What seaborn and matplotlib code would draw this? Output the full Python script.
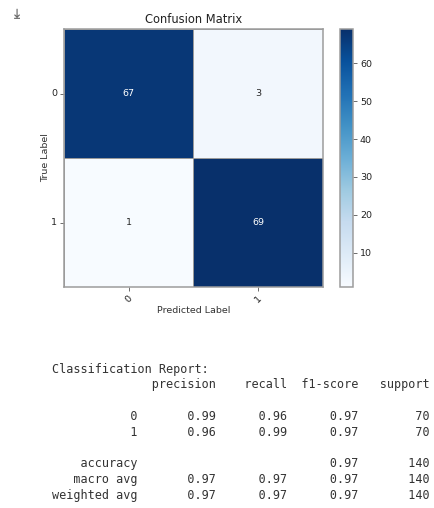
import numpy as np
import matplotlib
matplotlib.use("Agg")
import matplotlib.pyplot as plt
import seaborn as sns

# Confusion matrix counts (rows: true label, columns: predicted label)
class_labels = ["0", "1"]
cm_row_0 = [67, 3]
cm_row_1 = [1, 69]

# Classification report values
report_rows = ["0", "1"]
precision = [0.99, 0.96]
recall = [0.96, 0.99]
f1_score = [0.97, 0.97]
support = [70, 70]
accuracy = 0.97
macro_avg = [0.97, 0.97, 0.97]
weighted_avg = [0.97, 0.97, 0.97]
total_support = 140

colorbar_ticks = [10, 20, 30, 40, 50, 60]

W, H = 435, 508
fig = plt.figure(figsize=(W / 100, H / 100), dpi=100)
fig.patch.set_facecolor("white")


def box(x0, y0, x1, y1):
    """Pixel box (top-left origin) -> figure-fraction rect."""
    return [x0 / W, 1 - y1 / H, (x1 - x0) / W, (y1 - y0) / H]


ax = fig.add_axes(box(64, 29, 323, 287))
cax = fig.add_axes(box(340, 29, 353, 287))

cm = np.array([cm_row_0, cm_row_1])
sns.heatmap(cm, annot=True, fmt="d", cmap="Blues", ax=ax, cbar_ax=cax,
            xticklabels=class_labels, yticklabels=class_labels,
            linewidths=0.5, linecolor="#9a9a9a",
            annot_kws={"fontsize": 6.8})

spine_color = "#9c9c9c"
for sp in ax.spines.values():
    sp.set_visible(True)
    sp.set_color(spine_color)
    sp.set_linewidth(1.1)

ax.set_title("Confusion Matrix", fontsize=8.3, color="#222222", pad=4)
ax.set_xlabel("Predicted Label", fontsize=6.8, color="#333333", labelpad=1)
ax.set_ylabel("True Label", fontsize=6.8, color="#333333", labelpad=1)
ax.tick_params(axis="both", labelsize=6.8, length=3, width=0.6, pad=2,
               color="#555555", labelcolor="#222222")
plt.setp(ax.get_xticklabels(), rotation=45)
plt.setp(ax.get_yticklabels(), rotation=0)

cbar = ax.collections[0].colorbar
cbar.set_ticks(colorbar_ticks)
cbar.ax.tick_params(labelsize=6.8, length=3, width=0.6, pad=2,
                    color="#555555", labelcolor="#222222")
cbar.outline.set_visible(True)
cbar.outline.set_edgecolor(spine_color)
cbar.outline.set_linewidth(1.1)

# Output marker in the top-left corner
fig.text(15.5 / W, 1 - 13 / H, "\u21e5", rotation=-90, fontsize=10,
         color="#666666", ha="center", va="center")

# Text classification report in sklearn's layout
width = 12
headers = ["precision", "recall", "f1-score", "support"]
lines = ["Classification Report:"]
lines.append(f"{'':>{width}s} " + "".join(f" {h:>9}" for h in headers))
lines.append("")
for name, p, r, f, s in zip(report_rows, precision, recall, f1_score, support):
    lines.append(f"{name:>{width}s} " + f" {p:>9.2f}" + f" {r:>9.2f}"
                 + f" {f:>9.2f}" + f" {s:>9}")
lines.append("")
lines.append(f"{'accuracy':>{width}s} " + f" {'':>9}" + f" {'':>9}"
             + f" {accuracy:>9.2f}" + f" {total_support:>9}")
for name, vals in (("macro avg", macro_avg), ("weighted avg", weighted_avg)):
    lines.append(f"{name:>{width}s} " + "".join(f" {v:>9.2f}" for v in vals)
                 + f" {total_support:>9}")

y0, step = 369, 15.75
for i, line in enumerate(lines):
    if line:
        fig.text(52 / W, 1 - (y0 + i * step) / H, line, family="DejaVu Sans Mono",
                 fontsize=8.5, color="#333333", ha="left", va="center")

fig.savefig("out.png", dpi=100, facecolor="white")
